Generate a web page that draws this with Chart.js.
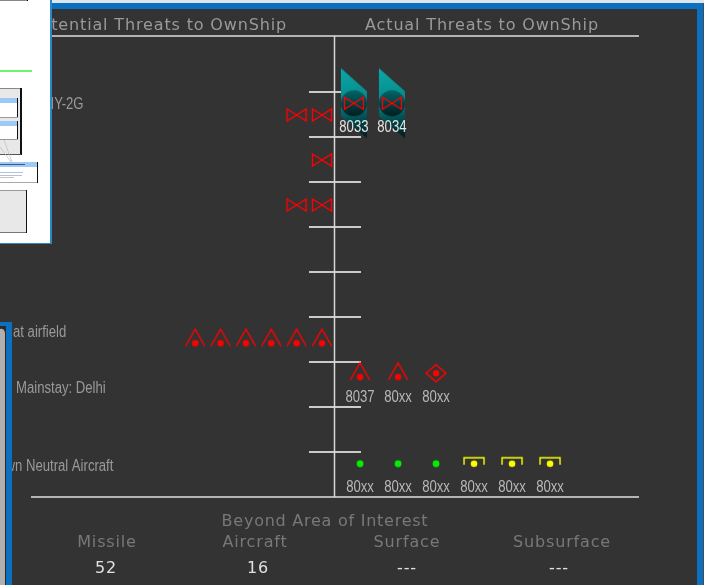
<!DOCTYPE html>
<html><head><meta charset="utf-8">
<script src="https://cdn.jsdelivr.net/npm/chart.js@4"></script>
<style>
html,body{margin:0;padding:0;background:#333;width:704px;height:585px;overflow:hidden}
canvas{position:absolute;left:0;top:0}
svg{position:absolute;left:0;top:0}
</style></head><body>
<canvas id="c" width="704" height="585"></canvas>
<svg width="704" height="585" shape-rendering="crispEdges">
 <rect x="52" y="0" width="652" height="3" fill="#dbe6ee"/>
 <rect x="52" y="3" width="652" height="6" fill="#0a70bf"/>
 <rect x="697" y="3" width="6" height="582" fill="#0a70bf"/>
 <rect x="703" y="3" width="1" height="582" fill="#4a4a4a"/>
 <!-- document window, top left -->
 <rect x="0" y="0" width="50" height="243" fill="#fff"/>
 <rect x="50" y="0" width="2" height="244" fill="#2b88c6"/>
 <rect x="0" y="243" width="52" height="1" fill="#2b88c6"/>
 <rect x="0" y="0" width="27" height="1" fill="#888"/><rect x="27" y="0" width="1" height="1" fill="#000"/>
 <rect x="0" y="70" width="32" height="2" fill="#6cf56c"/>
 <rect x="0" y="88" width="21" height="67" fill="#e8e8e8"/>
 <rect x="0" y="88" width="21" height="1" fill="#888"/><rect x="20" y="88" width="1.5" height="67" fill="#111"/><rect x="0" y="154" width="21" height="1" fill="#555"/>
 <rect x="0" y="98" width="18" height="20" fill="#fff"/><rect x="0" y="98" width="18" height="5" fill="#9cc9f5"/><rect x="17" y="98" width="1" height="20" fill="#111"/><rect x="0" y="117" width="18" height="1" fill="#999"/>
 <rect x="0" y="121" width="18" height="19" fill="#fff"/><rect x="0" y="121" width="18" height="5" fill="#9cc9f5"/><rect x="17" y="121" width="1" height="19" fill="#111"/><rect x="0" y="139" width="18" height="1" fill="#999"/>
 <g shape-rendering="auto" stroke="#bbb" stroke-width="0.7"><line x1="0" y1="147" x2="11" y2="162"/><line x1="4" y1="140" x2="12" y2="162"/></g>
 <rect x="0" y="162" width="37" height="21" fill="#fff"/><rect x="0" y="162" width="37" height="5" fill="#9cc9f5"/><rect x="37" y="162" width="1" height="21" fill="#111"/><rect x="0" y="182" width="37" height="1" fill="#aaa"/>
 <rect x="0" y="164" width="25" height="1" fill="#3a5a90"/><rect x="0" y="172" width="23" height="1" fill="#b6c0d8"/><rect x="0" y="175" width="22" height="1" fill="#b6c0d8"/><rect x="0" y="177" width="14" height="1" fill="#c4c4d0"/>
 <rect x="0" y="190" width="26" height="43" fill="#e8e8e8"/><rect x="0" y="190" width="26" height="1" fill="#999"/><rect x="26" y="190" width="1" height="43" fill="#111"/><rect x="0" y="232" width="26" height="1" fill="#777"/>
 <!-- second window, bottom left -->
 <rect x="0" y="322" width="12" height="263" fill="#0a70bf"/>
 <rect x="0" y="326" width="6" height="259" fill="#2a2a2a"/>
 <path d="M0 329 Q4 328 5 333 V585 H0 Z" fill="#b0b0b0" shape-rendering="auto"/>
</svg>
<script>
const rowLabels = ['IY-2G', 'at airfield', 'Mainstay: Delhi', 'wn Neutral Aircraft'];
const rowLabelBands = [0.29, 5.34, 6.58, 8.33];
const rowBoundaries = [0, 1, 2, 3, 4, 5, 6, 7, 8];

const potentialBowtieSlots = [2, 1, 1, 2, 1];
const potentialBowtieBands = [0.51, 0.51, 1.51, 2.51, 2.51];
const potentialTriangleSlots = [6, 5, 4, 3, 2, 1];
const potentialTriangleBands = [5.46, 5.46, 5.46, 5.46, 5.46, 5.46];

const ownedBowtieCols = [-0.16, 0.84];
const ownedBowtieBands = [0.25, 0.25];
const ownedBowtieIds = ['8033', '8034'];

const actualTriangleCols = [0, 1];
const actualTriangleBands = [6.21, 6.21];
const actualTriangleIds = ['8037', '80xx'];
const actualDiamondCols = [2];
const actualDiamondBands = [6.25];
const actualDiamondIds = ['80xx'];
const neutralDotCols = [0, 1, 2];
const neutralDotBands = [8.26, 8.26, 8.26];
const neutralDotIds = ['80xx', '80xx', '80xx'];
const unknownSubCols = [3, 4, 5];
const unknownSubBands = [8.26, 8.26, 8.26];
const unknownSubIds = ['80xx', '80xx', '80xx'];

const headers = ['Potential Threats to OwnShip', 'Actual Threats to OwnShip'];
const footerTitle = 'Beyond Area of Interest';
const footerCategories = ['Missile', 'Aircraft', 'Surface', 'Subsurface'];
const footerValues = ['52', '16', '---', '---'];

function pts(xs, ys) { return xs.map((x, i) => ({ x, y: ys[i] })); }
function sprite(w, h, draw) {
  const c = document.createElement('canvas'); c.width = w; c.height = h;
  const g = c.getContext('2d'); g.translate(w / 2, h / 2); draw(g); return c;
}
const RED = '#ff0000';
function dot(g, y, r, col) { g.fillStyle = col; g.beginPath(); g.arc(0, y, r, 0, 7); g.fill(); }
const bowtie = sprite(24, 16, g => {
  g.strokeStyle = RED; g.lineWidth = 1.4;
  g.beginPath(); g.moveTo(-9.5, -6); g.lineTo(9.5, 6); g.lineTo(9.5, -6); g.lineTo(-9.5, 6); g.closePath(); g.stroke();
});
const triangle = sprite(26, 24, g => {
  g.strokeStyle = RED; g.lineWidth = 1.4;
  g.beginPath(); g.moveTo(-9.7, 8.5); g.lineTo(0, -8.5); g.lineTo(9.7, 8.5); g.stroke();
  dot(g, 5.5, 3.2, '#ff0000');
});
const diamond = sprite(26, 24, g => {
  g.strokeStyle = RED; g.lineWidth = 1.4;
  g.beginPath(); g.moveTo(-10, 0); g.lineTo(0, -8.5); g.lineTo(10, 0); g.lineTo(0, 8.5); g.closePath(); g.stroke();
  dot(g, 0, 3.2, '#ff0000');
});
const greenDot = sprite(12, 12, g => dot(g, 0, 3.4, '#00f000'));
const bracket = sprite(26, 20, g => {
  g.strokeStyle = '#ffff00'; g.lineWidth = 1.4;
  g.beginPath(); g.moveTo(-10, 1); g.lineTo(-10, -6); g.lineTo(10, -6); g.lineTo(10, 1); g.stroke();
  dot(g, 0, 3.3, '#ffff00');
});
const highlight = sprite(28, 74, g => {
  g.beginPath(); g.moveTo(-13, -35); g.lineTo(13, -12); g.lineTo(13, 35); g.lineTo(-13, 13); g.closePath();
  const lg = g.createLinearGradient(-5, -35, 5, 35);
  lg.addColorStop(0, '#0aa8a8'); lg.addColorStop(0.45, '#078a8a'); lg.addColorStop(0.75, '#03484c'); lg.addColorStop(1, '#011c20');
  g.fillStyle = lg; g.fill();
  const rg = g.createLinearGradient(0, -14, 0, 14);
  rg.addColorStop(0, 'rgba(3,90,92,0.8)'); rg.addColorStop(1, 'rgba(0,20,24,0.9)');
  g.fillStyle = rg; g.beginPath(); g.arc(0, 0, 13, 0, 7); g.fill();
});

function marks(label, xs, ys, axis, style, order) {
  return { label, data: pts(xs, ys), xAxisID: axis, yAxisID: 'y', pointStyle: style, pointRadius: 8, showLine: false, order };
}
const labelled = [
  { xs: ownedBowtieCols, ys: ownedBowtieBands, ids: ownedBowtieIds, drop: 24, col: '#e4e4e4' },
  { xs: actualTriangleCols, ys: actualTriangleBands, ids: actualTriangleIds, drop: 26, col: '#b8b8b8' },
  { xs: actualDiamondCols, ys: actualDiamondBands, ids: actualDiamondIds, drop: 24, col: '#b8b8b8' },
  { xs: neutralDotCols, ys: neutralDotBands, ids: neutralDotIds, drop: 24, col: '#b8b8b8' },
  { xs: unknownSubCols, ys: unknownSubBands, ids: unknownSubIds, drop: 24, col: '#b8b8b8' }
];

function text(g, s, x, y, font, col, align, spacing) {
  g.font = font; g.fillStyle = col; g.textAlign = align; g.textBaseline = 'middle';
  g.letterSpacing = spacing || '0px'; g.fillText(s, x, y); g.letterSpacing = '0px';
}
function narrowText(g, s, x, y, col, align) {
  g.save(); g.translate(x, y); g.scale(0.82, 1);
  text(g, s, 0, 0, '16px "Liberation Sans"', col, align);
  g.restore();
}
const WIDE = '"DejaVu Sans"';
const frame = {
  id: 'frame',
  beforeDatasetsDraw(chart) {
    const g = chart.ctx, y = chart.scales.y;
    const x0 = 334.5;
    g.save();
    g.strokeStyle = '#ffffff'; g.lineWidth = 1.5;
    rowBoundaries.forEach(b => {
      const p = y.getPixelForValue(b);
      g.beginPath(); g.moveTo(309, p); g.lineTo(361, p); g.stroke();
    });
    g.strokeStyle = '#b4b4b4'; g.lineWidth = 2;
    [36, y.getPixelForValue(9)].forEach(p => { g.beginPath(); g.moveTo(31, p); g.lineTo(639, p); g.stroke(); });
    g.strokeStyle = '#d8d8d8'; g.lineWidth = 1.5;
    g.beginPath(); g.moveTo(x0, 36); g.lineTo(x0, y.getPixelForValue(9)); g.stroke();
    g.restore();
  },
  afterDatasetsDraw(chart) {
    const g = chart.ctx, y = chart.scales.y, xa = chart.scales.xAct;
    g.save();
    labelled.forEach(l => l.ids.forEach((id, i) => {
      narrowText(g, id, xa.getPixelForValue(l.xs[i]), y.getPixelForValue(l.ys[i]) + l.drop, l.col, 'center');
    }));
    const rowX = [50.5, 13, 16, 5.5];
    rowLabels.forEach((s, i) => narrowText(g, s, rowX[i], y.getPixelForValue(rowLabelBands[i]), '#9a9a9a', 'left'));
    const hf = '16px ' + WIDE;
    text(g, headers[0], 287, 25.5, hf, '#9a9a9a', 'right', '0.85px');
    text(g, headers[1], 482, 25.5, hf, '#9a9a9a', 'center', '0.85px');
    text(g, footerTitle, 325, 521.5, hf, '#787878', 'center', '0.75px');
    const catX = [107, 255, 407, 562], valX = [106, 258, 407, 559];
    footerCategories.forEach((s, i) => text(g, s, catX[i], 542.5, hf, '#787878', 'center', '0.85px'));
    footerValues.forEach((s, i) => text(g, s, valX[i], 568.5, hf, '#e0e0e0', 'center', '0.85px'));
    g.restore();
  }
};

new Chart(document.getElementById('c'), {
  type: 'scatter',
  data: { datasets: [
    marks('Own highlight', ownedBowtieCols, ownedBowtieBands, 'xAct', highlight, 5),
    marks('Own threats', ownedBowtieCols, ownedBowtieBands, 'xAct', bowtie, 1),
    marks('Potential SAM', potentialBowtieSlots, potentialBowtieBands, 'xPot', bowtie, 2),
    marks('Potential aircraft', potentialTriangleSlots, potentialTriangleBands, 'xPot', triangle, 2),
    marks('Actual aircraft', actualTriangleCols, actualTriangleBands, 'xAct', triangle, 2),
    marks('Actual diamond', actualDiamondCols, actualDiamondBands, 'xAct', diamond, 2),
    marks('Neutral', neutralDotCols, neutralDotBands, 'xAct', greenDot, 2),
    marks('Unknown', unknownSubCols, unknownSubBands, 'xAct', bracket, 2)
  ] },
  options: {
    responsive: false, animation: false, devicePixelRatio: 1,
    layout: { padding: 0, autoPadding: false },
    plugins: { legend: { display: false }, tooltip: { enabled: false } },
    scales: {
      xPot: { type: 'linear', display: false, reverse: true, min: -14.07, max: 13.70 },
      xAct: { type: 'linear', display: false, min: -9.4737, max: 9.0526 },
      y: { type: 'linear', display: false, reverse: true, min: -2.0444, max: 10.9556 }
    }
  },
  plugins: [frame]
});
</script>
</body></html>
